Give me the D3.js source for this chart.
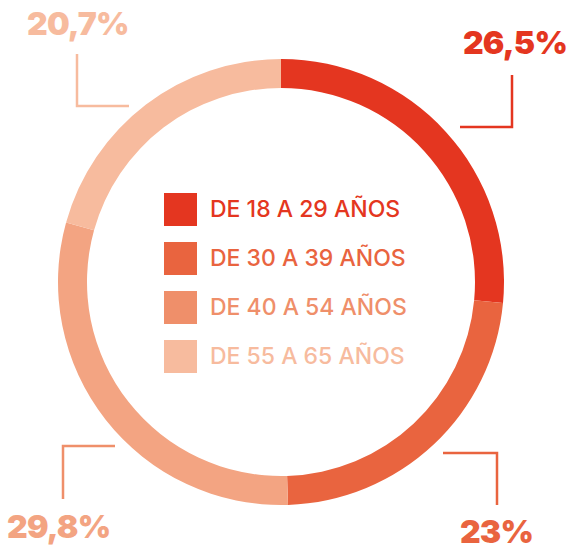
<!DOCTYPE html>
<html>
<head>
<meta charset="utf-8">
<script src="https://cdn.jsdelivr.net/npm/d3@7"></script>
<style>
  body { margin: 0; background: #fff; }
  svg { display: block; font-family: Inter, "Noto Sans", sans-serif; }
</style>
</head>
<body>
<div class="chart"></div>
<script>
var svgWidth = 571;
var svgHeight = 550;

// data
var groups = ["DE 18 A 29 AÑOS", "DE 30 A 39 AÑOS", "DE 40 A 54 AÑOS", "DE 55 A 65 AÑOS"];
var shares = [26.5, 23, 29.8, 20.7];
var shareLabels = ["26,5%", "23%", "29,8%", "20,7%"];

var ringColors = ["#e43620", "#e9643f", "#f3a482", "#f7bb9e"];
var legendColors = ["#e43620", "#e9643f", "#ef8f6a", "#f7bb9e"];

var cx = 281, cy = 282;
var outerR = 223, innerR = 194;

var svg = d3.select(".chart")
  .append("svg")
  .attr("width", svgWidth)
  .attr("height", svgHeight);

var pie = d3.pie().sort(null).value(function(d) { return d; });
var arc = d3.arc().innerRadius(innerR).outerRadius(outerR);

var ring = svg.append("g")
  .attr("transform", "translate(" + cx + "," + cy + ")");

ring.selectAll("path")
  .data(pie(shares))
  .enter()
  .append("path")
  .attr("d", arc)
  .attr("fill", function(d, i) { return ringColors[i]; });

// legend in the middle
var legendY = d3.scaleBand().domain(groups).range([193, 389]).paddingInner(0);
var legend = svg.append("g");

legend.selectAll("rect")
  .data(groups)
  .enter()
  .append("rect")
  .attr("x", 164)
  .attr("y", function(d) { return legendY(d); })
  .attr("width", 33)
  .attr("height", 33)
  .attr("fill", function(d, i) { return legendColors[i]; });

legend.selectAll("text")
  .data(groups)
  .enter()
  .append("text")
  .attr("x", 210)
  .attr("y", function(d) { return legendY(d) + 24; })
  .attr("font-size", 23)
  .attr("font-weight", 500)
  .attr("fill", function(d, i) { return legendColors[i]; })
  .text(function(d) { return d; });

// percentage labels with corner leader lines
var callouts = [
  { x: 567, y: 54, anchor: "end", path: [[460, 127], [512, 127], [512, 75]] },
  { x: 533, y: 543, anchor: "end", path: [[443, 453], [497, 453], [497, 505]] },
  { x: 7, y: 538, anchor: "start", path: [[115, 446], [63, 446], [63, 499]] },
  { x: 27, y: 35, anchor: "start", path: [[129, 106], [77, 106], [77, 54]] }
];

var line = d3.line();

svg.selectAll("path.leader")
  .data(callouts)
  .enter()
  .append("path")
  .attr("class", "leader")
  .attr("d", function(d) { return line(d.path); })
  .attr("fill", "none")
  .attr("stroke", function(d, i) { return legendColors[i]; })
  .attr("stroke-width", 2.5);

svg.selectAll("text.pct")
  .data(callouts)
  .enter()
  .append("text")
  .attr("class", "pct")
  .attr("x", function(d) { return d.x; })
  .attr("y", function(d) { return d.y; })
  .attr("text-anchor", function(d) { return d.anchor; })
  .attr("font-size", 32)
  .attr("font-weight", 900)
  .attr("letter-spacing", -0.8)
  .attr("fill", function(d, i) { return i == 2 ? ringColors[2] : legendColors[i]; })
  .text(function(d, i) { return shareLabels[i]; });
</script>
</body>
</html>
